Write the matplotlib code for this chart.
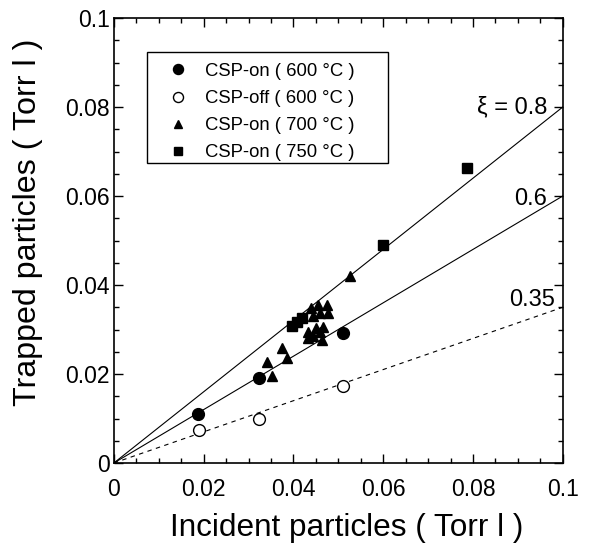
import matplotlib.pyplot as plt
import numpy as np
from matplotlib.ticker import MultipleLocator, FuncFormatter
from matplotlib.patches import Rectangle

plt.rcParams['font.family'] = ['Liberation Sans', 'DejaVu Sans']

# CSP-on ( 600 C )
on600_x = [0.0188, 0.0324, 0.0511]
on600_y = [0.0110, 0.0191, 0.0293]

# CSP-off ( 600 C )
off600_x = [0.0189, 0.0324, 0.0511]
off600_y = [0.0074, 0.0100, 0.0174]

# CSP-on ( 700 C )
on700_x = [0.0341, 0.0353, 0.0374, 0.0385, 0.0433, 0.0433, 0.0443, 0.0451, 0.0459,
           0.0463, 0.0466, 0.0440, 0.0443, 0.0455, 0.0459, 0.0475, 0.0477, 0.0527]
on700_y = [0.0226, 0.0196, 0.0258, 0.0237, 0.0295, 0.0280, 0.0285, 0.0303, 0.0295,
           0.0276, 0.0306, 0.0348, 0.0330, 0.0355, 0.0336, 0.0355, 0.0336, 0.0420]

# CSP-on ( 750 C )
on750_x = [0.0396, 0.0408, 0.0419, 0.0600, 0.0787]
on750_y = [0.0308, 0.0317, 0.0326, 0.0491, 0.0662]

# trapping ratios xi
xi_vals = [0.8, 0.6, 0.35]
xi_labels = ['ξ = 0.8', '0.6', '0.35']
xi_styles = ['-', '-', (0, (4, 4))]

fig = plt.figure(figsize=(5.93, 5.46), dpi=100)
ax = fig.add_axes([0.192, 0.152, 0.757, 0.815])

xl = np.array([0, 0.1])
for xi, ls in zip(xi_vals, xi_styles):
    ax.plot(xl, xi * xl, color='black', lw=0.8, ls=ls, zorder=1)

ax.text(0.0965, 0.0799, xi_labels[0], ha='right', va='center', fontsize=17)
ax.text(0.0965, 0.0594, xi_labels[1], ha='right', va='center', fontsize=17)
ax.text(0.0982, 0.0367, xi_labels[2], ha='right', va='center', fontsize=17)

ax.plot(on600_x, on600_y, 'o', color='black', ms=8.5, ls='none', label='CSP-on ( 600 °C )', zorder=3)
ax.plot(off600_x, off600_y, 'o', mfc='white', mec='black', mew=1.0, ms=8.5, ls='none',
        label='CSP-off ( 600 °C )', zorder=3)
ax.plot(on700_x, on700_y, '^', color='black', ms=7.5, ls='none', label='CSP-on ( 700 °C )', zorder=3)
ax.plot(on750_x, on750_y, 's', color='black', ms=7.5, ls='none', label='CSP-on ( 750 °C )', zorder=3)

ax.set_xlim(0, 0.1)
ax.set_ylim(0, 0.1)

fmt = FuncFormatter(lambda v, p: '0' if abs(v) < 1e-9 else ('0.1' if abs(v - 0.1) < 1e-9 else '%.2f' % v))
for axis in (ax.xaxis, ax.yaxis):
    axis.set_major_locator(MultipleLocator(0.02))
    axis.set_minor_locator(MultipleLocator(0.005))
    axis.set_major_formatter(fmt)

ax.tick_params(which='both', direction='in', top=True, right=True, width=1.0)
ax.tick_params(which='major', length=6.2, labelsize=16.5)
ax.tick_params(which='minor', length=3.6)
ax.tick_params(axis='x', which='major', pad=11)
ax.tick_params(axis='y', which='major', pad=3)
for s in ax.spines.values():
    s.set_linewidth(1.2)

ax.set_xlabel('Incident particles ( Torr l )', fontsize=22.7)
ax.set_ylabel('Trapped particles ( Torr l )', fontsize=23.2)
ax.xaxis.set_label_coords(0.519, -0.112)
ax.yaxis.set_label_coords(-0.158, 0.542)

# legend box
ax.add_patch(Rectangle((0.0735, 0.674), 0.5365, 0.25, transform=ax.transAxes,
                       facecolor='white', edgecolor='black', lw=1.0, zorder=4))
leg = ax.legend(loc='upper left', bbox_to_anchor=(0.1125, 0.899), fontsize=13.3,
                markerscale=0.85, frameon=False, borderpad=0, labelspacing=0.55,
                handletextpad=0.7, handlelength=1.5, borderaxespad=0)
leg.set_zorder(5)

plt.savefig('out.png', dpi=100)
